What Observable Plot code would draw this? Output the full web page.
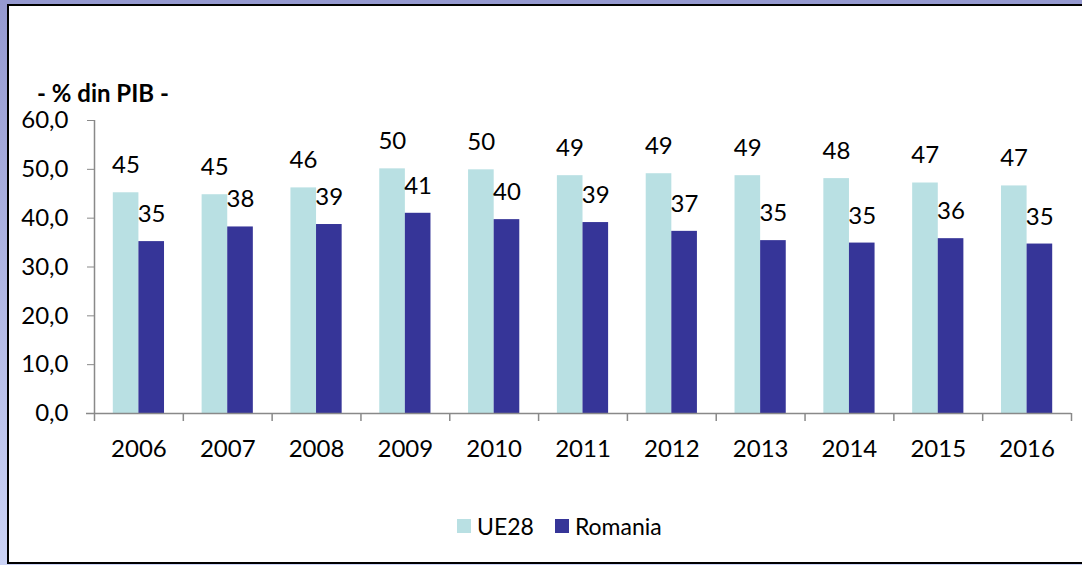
<!DOCTYPE html>
<html>
<head>
<meta charset="utf-8">
<script src="https://cdn.jsdelivr.net/npm/d3@7"></script>
<script src="https://cdn.jsdelivr.net/npm/@observablehq/plot@0.6"></script>
<style>
  html, body { margin: 0; padding: 0; }
  body {
    width: 1082px; height: 565px; overflow: hidden; position: relative;
    background: linear-gradient(to bottom, #9599d0, #cbd3f6);
    font-family: Lato, "Open Sans", sans-serif; color: #000;
  }
  #frame {
    position: absolute; left: 7px; top: 4px; width: 1100px; height: 556px;
    background: #fff; border-left: 2px solid #000; border-top: 2px solid #000; border-bottom: 2px solid #000;
  }
  #chart { position: absolute; left: 0; top: 0; }
  #ytitle {
    position: absolute; left: 37px; top: 81px; font-weight: bold; font-size: 24px; line-height: 24px; white-space: nowrap;
  }
  #legend {
    position: absolute; left: 457px; top: 512px; font-size: 23px; line-height: 28px; display: flex; align-items: center; white-space: nowrap;
  }
  #legend .sw { width: 14px; height: 14px; display: inline-block; margin-right: 6px; }
  #legend .item { display: flex; align-items: center; margin-right: 21px; }
</style>
</head>
<body>
<div id="frame"></div>
<div id="chart"></div>
<div id="ytitle">- % din PIB -</div>
<div id="legend"></div>
<script>
const years = ["2006", "2007", "2008", "2009", "2010", "2011", "2012", "2013", "2014", "2015", "2016"];
const ue28 = [45.2, 44.8, 46.2, 50.1, 49.9, 48.7, 49.1, 48.7, 48.1, 47.2, 46.6];
const romania = [35.2, 38.2, 38.7, 41.0, 39.7, 39.1, 37.3, 35.4, 34.9, 35.8, 34.7];
const seriesNames = ["UE28", "Romania"];
const seriesColors = ["#b9e0e3", "#363598"];
const yTicks = [0, 10, 20, 30, 40, 50, 60];

const W = 1082, H = 480, mL = 94, mR = 11, mT = 120, mB = 67;
const bw = (W - mL - mR) / years.length;
const axisColor = "#898989";
const fs = 24;

const rowsU = years.map((y, i) => ({year: y, value: ue28[i]}));
const rowsR = years.map((y, i) => ({year: y, value: romania[i]}));
const fmtTick = d => d.toFixed(1).replace(".", ",");
const fmtLbl = d => d3.format(".0f")(d);

const plot = Plot.plot({
  width: W, height: H,
  marginLeft: mL, marginRight: mR, marginTop: mT, marginBottom: mB,
  style: {fontFamily: "Lato, 'Open Sans', sans-serif", fontSize: fs + "px", background: "transparent", color: "#000", overflow: "visible"},
  x: {type: "band", domain: years, padding: 0, round: false},
  y: {domain: [0, 60]},
  marks: [
    Plot.barY(rowsU, {x: "year", y: "value", fill: seriesColors[0], insetLeft: 18.8, insetRight: 44.4}),
    Plot.barY(rowsR, {x: "year", y: "value", fill: seriesColors[1], insetLeft: 44.4, insetRight: 18.8}),
    Plot.text(rowsU, {x: "year", y: "value", text: d => fmtLbl(d.value), dx: -13, dy: -27.2, fill: "#000", fontSize: fs}),
    Plot.text(rowsR, {x: "year", y: "value", text: d => fmtLbl(d.value), dx: 12.7, dy: -27.2, fill: "#000", fontSize: fs}),
    // y axis line
    Plot.ruleX([years[0]], {x: d => d, y1: 0, y2: 60, dx: -bw / 2, stroke: axisColor, strokeWidth: 1.5}),
    // x axis line
    Plot.ruleY([0], {stroke: axisColor, strokeWidth: 1.5, insetLeft: -8}),
    // category boundary ticks
    Plot.ruleX(years, {x: d => d, y1: 0, y2: 0, insetBottom: -8, dx: -bw / 2, stroke: axisColor, strokeWidth: 1.5}),
    Plot.ruleX([years[years.length - 1]], {x: d => d, y1: 0, y2: 0, insetBottom: -8, dx: bw / 2, stroke: axisColor, strokeWidth: 1.5}),
    Plot.axisY({ticks: yTicks, tickFormat: fmtTick, tickSize: 7, tickPadding: 19, stroke: axisColor, fill: "#000", label: null, fontSize: fs}),
    Plot.axisX({tickSize: 0, tickPadding: 26, fill: "#000", label: null, fontSize: fs})
  ]
});
document.getElementById("chart").appendChild(plot);

const legend = document.getElementById("legend");
seriesNames.forEach((name, i) => {
  const item = document.createElement("span");
  item.className = "item";
  const sw = document.createElement("span");
  sw.className = "sw";
  sw.style.background = seriesColors[i];
  item.appendChild(sw);
  item.appendChild(document.createTextNode(name));
  legend.appendChild(item);
});
</script>
</body>
</html>
